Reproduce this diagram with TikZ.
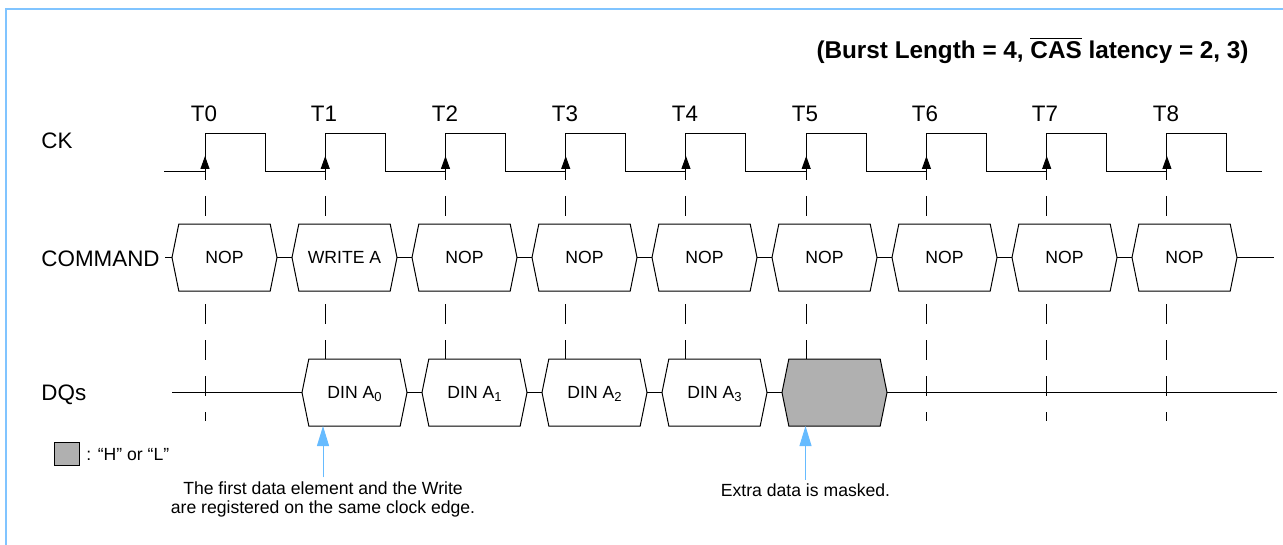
\documentclass[tikz,border=0pt]{standalone}
\usepackage{fontspec}
\setmainfont{Liberation Sans}
\usetikzlibrary{positioning,shapes.symbols,arrows.meta}

\newcommand{\dinsub}[1]{\smash{\raisebox{-1.5pt}{\fontsize{6.5}{7}\selectfont #1}}}

\tikzset{
  cmdbox/.style={signal,signal to=east and west,signal pointer angle=157,draw,fill=white,outer sep=0pt,
    line width=.5pt,minimum width=52.5pt,minimum height=33.5pt,inner sep=0pt,font=\fontsize{8.8}{10}\selectfont},
  pulse/.style={insert path={-- ++(0,-38) -- ++(60,0) -- ++(0,38)}},
  edgemark/.style={line width=.5pt,-{Triangle[length=6.5pt,width=4.5pt]}},
  guide/.style={line width=.5pt,dash pattern=on 10pt off 8pt,dash phase=6pt},
  bigtext/.style={font=\fontsize{11.2}{13}\selectfont,inner sep=0pt},
  notetext/.style={font=\fontsize{8.8}{9.5}\selectfont,align=center,inner sep=0pt},
  notearrow/.style={draw=skyblue,line width=.5pt,-{Triangle[length=10pt,width=6pt]}}
}
\definecolor{skyblue}{HTML}{66BBFF}
\definecolor{framecolor}{HTML}{80C4FF}
\definecolor{maskgray}{HTML}{B0B0B0}

\begin{document}
\begin{tikzpicture}[x=.5pt,y=-.5pt]
\useasboundingbox (0,0) rectangle (1283,545);
\draw[framecolor,line width=1pt] (6,545) -- (6,9) -- (1283,9);

\node[anchor=east,inner sep=0pt,font=\fontsize{12.15}{14}\bfseries] (title) at (1249,50.5)
  {(Burst Length = 4, $\overline{\mbox{CAS}}$ latency = 2, 3)};

\coordinate (tip) at (0,156);
\coordinate (base) at (0,421);
\coordinate (ckin) at (164,172);
\coordinate (e0) at (205,172);
\coordinate[right=60.12pt of e0] (e1);
\coordinate[right=60.12pt of e1] (e2);
\coordinate[right=60.12pt of e2] (e3);
\coordinate[right=60.12pt of e3] (e4);
\coordinate[right=60.12pt of e4] (e5);
\coordinate[right=60.12pt of e5] (e6);
\coordinate[right=60.12pt of e6] (e7);
\coordinate[right=60.12pt of e7] (e8);
\coordinate (ckout) at (1262,172);

\node[bigtext,anchor=west] (ck) at (41,141) {CK};
\node[bigtext,anchor=west] (command) at (41,259) {COMMAND};
\node[bigtext,anchor=west] (dqs) at (41,395) {DQs};

\node[bigtext] (t0) at (204,114) {T0};
\node[bigtext] (t1) at (324,114) {T1};
\node[bigtext] (t2) at (445,114) {T2};
\node[bigtext] (t3) at (565,114) {T3};
\node[bigtext] (t4) at (685,114) {T4};
\node[bigtext] (t5) at (805,114) {T5};
\node[bigtext] (t6) at (925,114) {T6};
\node[bigtext] (t7) at (1045,114) {T7};
\node[bigtext] (t8) at (1166,114) {T8};

% clock
\draw[line width=.5pt] (ckin) -- (e0) [pulse] -- (e1) [pulse] -- (e2) [pulse] -- (e3) [pulse]
  -- (e4) [pulse] -- (e5) [pulse] -- (e6) [pulse] -- (e7) [pulse] -- (e8) [pulse] -- (ckout);
\draw[edgemark] (e0) -- (e0 |- tip);
\draw[edgemark] (e1) -- (e1 |- tip);
\draw[edgemark] (e2) -- (e2 |- tip);
\draw[edgemark] (e3) -- (e3 |- tip);
\draw[edgemark] (e4) -- (e4 |- tip);
\draw[edgemark] (e5) -- (e5 |- tip);
\draw[edgemark] (e6) -- (e6 |- tip);
\draw[edgemark] (e7) -- (e7 |- tip);
\draw[edgemark] (e8) -- (e8 |- tip);

\draw[guide] (e0) -- (e0 |- base);
\draw[guide] (e1) -- (e1 |- base);
\draw[guide] (e2) -- (e2 |- base);
\draw[guide] (e3) -- (e3 |- base);
\draw[guide] (e4) -- (e4 |- base);
\draw[guide] (e5) -- (e5 |- base);
\draw[guide] (e6) -- (e6 |- base);
\draw[guide] (e7) -- (e7 |- base);
\draw[guide] (e8) -- (e8 |- base);

% command row
\coordinate (cmdin) at (165,257.5);
\coordinate (cmdout) at (1274,257.5);
\node[cmdbox,anchor=west] (c0) at (172,257.5) {NOP};
\node[cmdbox,right=7.5pt of c0] (c1) {WRITE A};
\node[cmdbox,right=7.5pt of c1] (c2) {NOP};
\node[cmdbox,right=7.5pt of c2] (c3) {NOP};
\node[cmdbox,right=7.5pt of c3] (c4) {NOP};
\node[cmdbox,right=7.5pt of c4] (c5) {NOP};
\node[cmdbox,right=7.5pt of c5] (c6) {NOP};
\node[cmdbox,right=7.5pt of c6] (c7) {NOP};
\node[cmdbox,right=7.5pt of c7] (c8) {NOP};
\draw[line width=.5pt] (cmdin) -- (c0.west);
\draw[line width=.5pt] (c0.east) -- (c1.west);
\draw[line width=.5pt] (c1.east) -- (c2.west);
\draw[line width=.5pt] (c2.east) -- (c3.west);
\draw[line width=.5pt] (c3.east) -- (c4.west);
\draw[line width=.5pt] (c4.east) -- (c5.west);
\draw[line width=.5pt] (c5.east) -- (c6.west);
\draw[line width=.5pt] (c6.east) -- (c7.west);
\draw[line width=.5pt] (c7.east) -- (c8.west);
\draw[line width=.5pt] (c8.east) -- (cmdout);

% data row
\coordinate (dqin) at (172,392.5);
\coordinate (dqout) at (1277,392.5);
\node[cmdbox,anchor=west] (d0) at (302,392.5) {DIN A\dinsub{0}};
\node[cmdbox,right=7.5pt of d0] (d1) {DIN A\dinsub{1}};
\node[cmdbox,right=7.5pt of d1] (d2) {DIN A\dinsub{2}};
\node[cmdbox,right=7.5pt of d2] (d3) {DIN A\dinsub{3}};
\node[cmdbox,fill=maskgray,right=7.5pt of d3] (d4) {};
\draw[line width=.5pt] (dqin) -- (d0.west);
\draw[line width=.5pt] (d0.east) -- (d1.west);
\draw[line width=.5pt] (d1.east) -- (d2.west);
\draw[line width=.5pt] (d2.east) -- (d3.west);
\draw[line width=.5pt] (d3.east) -- (d4.west);
\draw[line width=.5pt] (d4.east) -- (dqout);

% legend and notes
\node[draw,fill=maskgray,line width=.5pt,minimum width=12.5pt,minimum height=11.5pt,inner sep=0pt,anchor=west] (key) at (54,453.5) {};
\node[notetext,right=3pt of key,yshift=-.5pt] (keytext) {: “H” or “L”};
\node[notetext] (note1) at (323,499.5) {The first data element and the Write\\are registered on the same clock edge.};
\node[notetext] (note2) at (805.5,490.5) {Extra data is masked.};
\draw[notearrow] ([yshift=2pt]note1.north) -- (note1.north |- d0.south);
\draw[notearrow] ([yshift=2pt]note2.north) -- (note2.north |- d4.south);
\end{tikzpicture}
\end{document}
